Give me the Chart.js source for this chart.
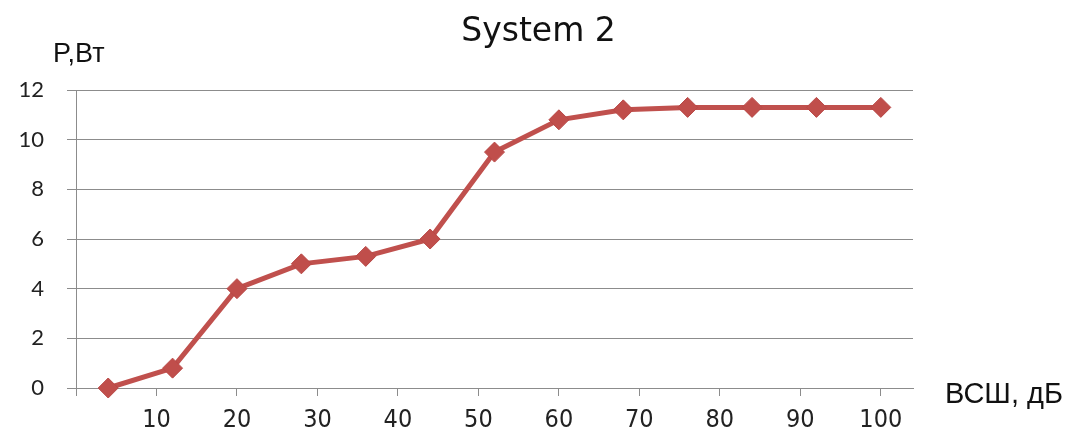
<!DOCTYPE html>
<html>
<head>
<meta charset="utf-8">
<script src="https://cdn.jsdelivr.net/npm/chart.js@4"></script>
<style>
  body { margin: 0; background: #fff; }
</style>
</head>
<body>
<canvas id="myChart" width="1073" height="431"></canvas>
<script>
// values
const snrDb = [4, 12, 20, 28, 36, 44, 52, 60, 68, 76, 84, 92, 100];
const powerW = [0, 0.8, 4, 5, 5.3, 6, 9.5, 10.8, 11.2, 11.3, 11.3, 11.3, 11.3];
const xTickValues = [0, 10, 20, 30, 40, 50, 60, 70, 80, 90, 100];
const yTickValues = [0, 2, 4, 6, 8, 10, 12];

const chartTitle = 'System 2';
const yName = 'P,Вт';
const xName = 'ВСШ, дБ';

const LINE_RED = 'rgb(192, 80, 77)';
const GRID_GREY = '#8c8c8c';

// title and axis names are drawn here because they sit outside the usual spots
const chartTexts = {
  id: 'chartTexts',
  afterDraw(chart) {
    const ctx = chart.ctx;
    const area = chart.chartArea;
    ctx.save();
    ctx.fillStyle = '#111';
    ctx.textBaseline = 'alphabetic';
    ctx.textAlign = 'center';
    ctx.font = '33px "DejaVu Sans", sans-serif';
    ctx.fillText(chartTitle, chart.width / 2 + 2, 41);
    ctx.textAlign = 'left';
    ctx.font = '27px "Liberation Sans", Arial, sans-serif';
    ctx.fillText(yName, area.left - 23, area.top - 28);
    ctx.font = '29px "Liberation Sans", Arial, sans-serif';
    ctx.fillText(xName, area.right + 32, area.bottom + 15);
    ctx.restore();
  }
};

const points = snrDb.map((x, i) => ({ x: x, y: powerW[i] }));

const config = {
  type: 'line',
  data: {
    datasets: [{
      data: points,
      clip: false,
      borderColor: LINE_RED,
      backgroundColor: LINE_RED,
      borderWidth: 5,
      pointStyle: 'rectRot',
      pointRadius: 10,
      pointBorderWidth: 1,
      pointBorderColor: 'rgb(185, 72, 70)',
      pointBackgroundColor: 'rgb(192, 78, 75)',
      tension: 0
    }]
  },
  options: {
    responsive: false,
    animation: false,
    layout: {
      padding: { left: 10, right: 160, top: 90, bottom: 0 }
    },
    plugins: {
      legend: { display: false },
      tooltip: { enabled: false },
      title: { display: false }
    },
    scales: {
      x: {
        type: 'linear',
        min: 0,
        max: 104,
        afterBuildTicks: (scale) => { scale.ticks = xTickValues.map(v => ({ value: v })); },
        afterFit: (scale) => { scale.height = 43; },
        grid: {
          drawOnChartArea: false,
          drawTicks: true,
          tickLength: 8,
          color: GRID_GREY
        },
        border: { display: true, color: GRID_GREY, width: 1 },
        ticks: {
          color: '#222',
          padding: 9,
          maxRotation: 0,
          autoSkip: false,
          font: { family: '"Liberation Sans Narrow", "DejaVu Sans Condensed", "Liberation Sans", sans-serif', size: 25 },
          callback: (v) => v === 0 ? '' : v
        }
      },
      y: {
        min: 0,
        max: 12,
        afterBuildTicks: (scale) => { scale.ticks = yTickValues.map(v => ({ value: v })); },
        afterFit: (scale) => { scale.width = 66; },
        grid: {
          drawOnChartArea: true,
          drawTicks: true,
          tickLength: 9,
          color: GRID_GREY
        },
        border: { display: true, color: GRID_GREY, width: 1 },
        ticks: {
          color: '#222',
          padding: 23,
          font: { family: 'Lato, "Open Sans", sans-serif', size: 22 }
        }
      }
    }
  },
  plugins: [chartTexts]
};

const myChart = new Chart(document.getElementById('myChart'), config);
</script>
</body>
</html>
